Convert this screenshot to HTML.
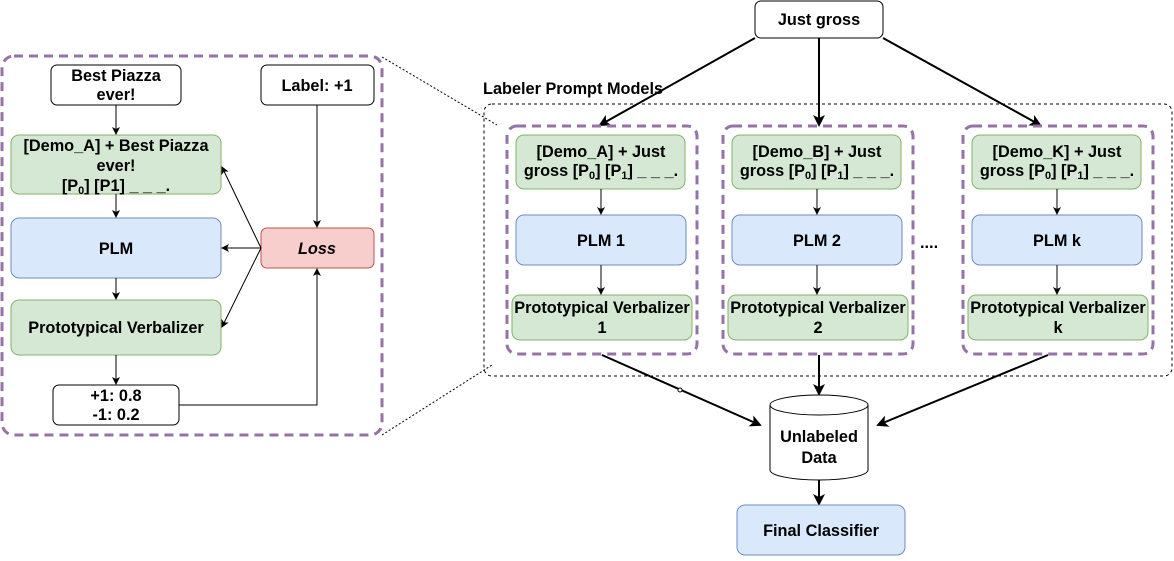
<!DOCTYPE html>
<html><head><style>
body{margin:0;background:#fff;}
svg text{font-family:"Liberation Sans",Arial,sans-serif;font-weight:bold;font-size:16.3px;fill:#000;}
</style></head><body>
<svg width="1174" height="556" viewBox="0 0 1174 556" xmlns="http://www.w3.org/2000/svg">
<defs>
<marker id="a" markerWidth="8" markerHeight="8" refX="7" refY="4" orient="auto" markerUnits="userSpaceOnUse"><path d="M0,0 L8,4 L0,8 L2,4 z" fill="#000"/></marker>
<marker id="b" markerWidth="12" markerHeight="12" refX="10" refY="6" orient="auto" markerUnits="userSpaceOnUse"><path d="M0,0 L12,6 L0,12 L3,6 z" fill="#000"/></marker>
</defs>
<line x1="382" y1="57" x2="497" y2="125" stroke="#000" stroke-dasharray="2,2"/>
<line x1="382" y1="435" x2="492" y2="365" stroke="#000" stroke-dasharray="2,2"/>
<rect x="484" y="104" width="688" height="272" rx="8" fill="none" stroke="#000" stroke-dasharray="3,3"/>
<text x="483" y="94" font-size="14">Labeler Prompt Models</text>
<rect x="2" y="56" width="380" height="379" rx="12" fill="none" stroke="#9673a6" stroke-width="3" stroke-dasharray="9,6"/>
<rect x="51" y="65" width="130" height="40" rx="6" fill="#fff" stroke="#000"/>
<text x="116" y="81" text-anchor="middle">Best Piazza</text><text x="116" y="100" text-anchor="middle">ever!</text>
<rect x="261" y="65" width="113" height="40" rx="6" fill="#fff" stroke="#000"/>
<text x="317" y="91" text-anchor="middle">Label: +1</text>
<rect x="11" y="135" width="210" height="59" rx="8" fill="#d5e8d4" stroke="#82b366"/>
<text x="116" y="151" text-anchor="middle">[Demo_A] + Best Piazza</text>
<text x="116" y="171" text-anchor="middle">ever!</text>
<text x="116" y="191" text-anchor="middle">[P<tspan font-size="11" dy="3">0</tspan><tspan dy="-3">] [P1] _ _ _.</tspan></text>
<rect x="11" y="218" width="210" height="60" rx="8" fill="#dae8fc" stroke="#6c8ebf"/>
<text x="116" y="254" text-anchor="middle">PLM</text>
<rect x="11" y="300" width="210" height="55" rx="8" fill="#d5e8d4" stroke="#82b366"/>
<text x="116" y="333" text-anchor="middle">Prototypical Verbalizer</text>
<rect x="53" y="385" width="126" height="40" rx="6" fill="#fff" stroke="#000"/>
<text x="116" y="401" text-anchor="middle">+1: 0.8</text><text x="116" y="420" text-anchor="middle">-1: 0.2</text>
<rect x="261" y="228" width="113" height="40" rx="6" fill="#f8cecc" stroke="#b85450"/>
<text x="317" y="254" text-anchor="middle" font-style="italic">Loss</text>
<g stroke="#000" fill="none" marker-end="url(#a)">
<line x1="116" y1="105" x2="116" y2="134"/>
<line x1="116" y1="194" x2="116" y2="217"/>
<line x1="116" y1="278" x2="116" y2="299"/>
<line x1="116" y1="355" x2="116" y2="384"/>
<line x1="317" y1="105" x2="317" y2="227"/>
<polyline points="179,405 317,405 317,269"/>
<line x1="261" y1="248" x2="222" y2="248"/>
<line x1="261" y1="248" x2="222" y2="167"/>
<line x1="261" y1="248" x2="222" y2="327"/>
</g>
<rect x="755" y="1" width="128" height="37" rx="6" fill="#fff" stroke="#000"/>
<text x="819" y="25" text-anchor="middle">Just gross</text>
<g stroke="#000" stroke-width="2" marker-end="url(#b)">
<line x1="755" y1="38" x2="600" y2="125"/>
<line x1="819" y1="38" x2="819" y2="125"/>
<line x1="883" y1="38" x2="1040" y2="125"/>
<line x1="602" y1="355" x2="760" y2="425"/>
<line x1="819" y1="355" x2="819" y2="394"/>
<line x1="1048" y1="355" x2="878" y2="425"/>
<line x1="819" y1="478" x2="819" y2="504"/>
</g>
<circle cx="680" cy="390" r="2" fill="#fff" stroke="#000"/>
<g>
<rect x="507" y="126" width="190" height="228" rx="10" fill="none" stroke="#9673a6" stroke-width="3" stroke-dasharray="9,6"/>
<rect x="516" y="135" width="169" height="54" rx="8" fill="#d5e8d4" stroke="#82b366"/>
<text x="601" y="157" text-anchor="middle">[Demo_A] + Just</text>
<text x="601" y="176" text-anchor="middle">gross [P<tspan font-size="11" dy="3">0</tspan><tspan dy="-3">] [P</tspan><tspan font-size="11" dy="3">1</tspan><tspan dy="-3">]  _ _ _.</tspan></text>
<rect x="516" y="215" width="170" height="50" rx="8" fill="#dae8fc" stroke="#6c8ebf"/>
<text x="601" y="246" text-anchor="middle">PLM 1</text>
<rect x="512" y="295" width="180" height="45" rx="8" fill="#d5e8d4" stroke="#82b366"/>
<text x="602" y="313" text-anchor="middle">Prototypical Verbalizer</text>
<text x="602" y="333" text-anchor="middle">1</text>
<g stroke="#000" marker-end="url(#a)"><line x1="601" y1="189" x2="601" y2="214"/><line x1="601" y1="265" x2="601" y2="294"/></g>
</g>
<g transform="translate(216,0)">
<rect x="507" y="126" width="190" height="228" rx="10" fill="none" stroke="#9673a6" stroke-width="3" stroke-dasharray="9,6"/>
<rect x="516" y="135" width="169" height="54" rx="8" fill="#d5e8d4" stroke="#82b366"/>
<text x="601" y="157" text-anchor="middle">[Demo_B] + Just</text>
<text x="601" y="176" text-anchor="middle">gross [P<tspan font-size="11" dy="3">0</tspan><tspan dy="-3">] [P</tspan><tspan font-size="11" dy="3">1</tspan><tspan dy="-3">]  _ _ _.</tspan></text>
<rect x="516" y="215" width="170" height="50" rx="8" fill="#dae8fc" stroke="#6c8ebf"/>
<text x="601" y="246" text-anchor="middle">PLM 2</text>
<rect x="512" y="295" width="180" height="45" rx="8" fill="#d5e8d4" stroke="#82b366"/>
<text x="602" y="313" text-anchor="middle">Prototypical Verbalizer</text>
<text x="602" y="333" text-anchor="middle">2</text>
<g stroke="#000" marker-end="url(#a)"><line x1="601" y1="189" x2="601" y2="214"/><line x1="601" y1="265" x2="601" y2="294"/></g>
</g>
<g transform="translate(456,0)">
<rect x="507" y="126" width="190" height="228" rx="10" fill="none" stroke="#9673a6" stroke-width="3" stroke-dasharray="9,6"/>
<rect x="516" y="135" width="169" height="54" rx="8" fill="#d5e8d4" stroke="#82b366"/>
<text x="601" y="157" text-anchor="middle">[Demo_K] + Just</text>
<text x="601" y="176" text-anchor="middle">gross [P<tspan font-size="11" dy="3">0</tspan><tspan dy="-3">] [P</tspan><tspan font-size="11" dy="3">1</tspan><tspan dy="-3">]  _ _ _.</tspan></text>
<rect x="516" y="215" width="170" height="50" rx="8" fill="#dae8fc" stroke="#6c8ebf"/>
<text x="601" y="246" text-anchor="middle">PLM k</text>
<rect x="512" y="295" width="180" height="45" rx="8" fill="#d5e8d4" stroke="#82b366"/>
<text x="602" y="313" text-anchor="middle">Prototypical Verbalizer</text>
<text x="602" y="333" text-anchor="middle">k</text>
<g stroke="#000" marker-end="url(#a)"><line x1="601" y1="189" x2="601" y2="214"/><line x1="601" y1="265" x2="601" y2="294"/></g>
</g>
<text x="920" y="248" font-size="24">....</text>
<path d="M770,405 L770,470 A49,10 0 0 0 868,470 L868,405" fill="#fff" stroke="#000"/>
<ellipse cx="819" cy="405" rx="49" ry="10" fill="#fff" stroke="#000"/>
<text x="819" y="442" text-anchor="middle">Unlabeled</text>
<text x="819" y="463" text-anchor="middle">Data</text>
<rect x="737" y="505" width="168" height="50" rx="8" fill="#dae8fc" stroke="#6c8ebf"/>
<text x="821" y="536" text-anchor="middle">Final Classifier</text>
</svg>
</body></html>
